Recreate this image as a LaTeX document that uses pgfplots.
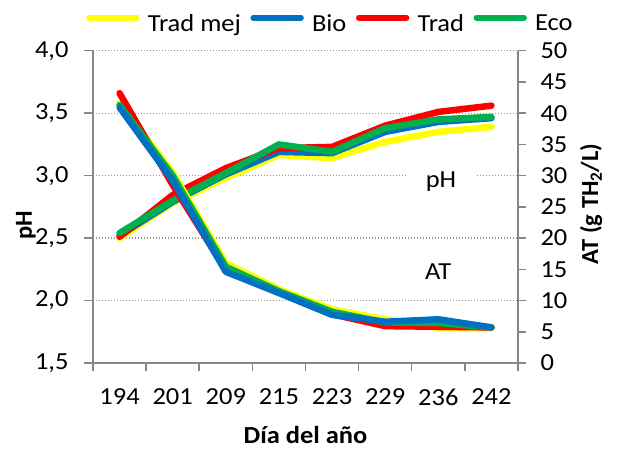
\documentclass[border=0pt]{standalone}
\usepackage{fontspec}
\setmainfont{Carlito}[FakeStretch=1.08]
\newfontfamily\rotfont{Carlito}
\usepackage{pgfplots}
\pgfplotsset{compat=1.18}
\definecolor{cy}{HTML}{FFFF00}
\definecolor{cb}{HTML}{0070C0}
\definecolor{cr}{HTML}{FF0000}
\definecolor{cg}{HTML}{00B050}
\definecolor{axgray}{HTML}{868686}
\newcommand{\fs}{\fontsize{24.5bp}{29bp}\selectfont}
\newcommand{\fl}{\fontsize{24.5bp}{29bp}\selectfont}
\pgfplotsset{
  common/.style={
    at={(93bp,87bp)}, anchor=south west, scale only axis,
    width=425bp, height=312.3bp,
    xmin=-0.5, xmax=7.5, clip=false,
    axis line style={draw=axgray, line width=1.5bp},
    tick style={draw=axgray, line width=1.5bp},
    tick align=outside,
    tick label style={font=\fs, text=black},
    yticklabel style={/pgf/number format/.cd, assume math mode=true},
    every axis plot/.append style={line width=6.5bp, line cap=round, line join=round, mark=none},
  }
}
\begin{document}
\begin{tikzpicture}
\path[use as bounding box] (0,0) rectangle (618bp,450bp);
\begin{axis}[common,
  ymin=1.5, ymax=4,
  axis x line*=bottom, axis y line*=left,
  xtick={0,...,7}, xticklabels={194,201,209,215,223,229,236,242},
  major x tick style={draw=none},
  minor xtick={-0.5,0.5,...,7.5},
  minor tick length=8bp, major tick length=9bp,
  ytick={1.5,2,...,4},
  yticklabel style={/pgf/number format/.cd, fixed, fixed zerofill, precision=1, use comma, assume math mode=true},
  ymajorgrids, grid style={draw=gray!80, line width=1.2bp, dash pattern=on 1.2bp off 1.8bp},
  xticklabel shift=13bp, yticklabel shift=12bp,
  xlabel={Día del año}, ylabel={pH},
  every axis x label/.style={at={(axis description cs:0.5,-0.2305)}, anchor=center, font=\fs\bfseries},
  every axis y label/.style={at={(axis description cs:-0.158,0.442)}, rotate=90, anchor=center, font=\rotfont\fs\bfseries},
]
\addplot[cy] coordinates {(0,2.50) (1,2.78) (2,2.98) (3,3.165) (4,3.14) (5,3.27) (6,3.35) (7,3.39)};
\addplot[cb] coordinates {(0,2.52) (1,2.79) (2,3.01) (3,3.19) (4,3.18) (5,3.35) (6,3.43) (7,3.46)};
\addplot[cr] coordinates {(0,2.51) (1,2.845) (2,3.06) (3,3.22) (4,3.23) (5,3.40) (6,3.51) (7,3.56)};
\addplot[cg] coordinates {(0,2.54) (1,2.80) (2,3.02) (3,3.25) (4,3.19) (5,3.38) (6,3.45) (7,3.47)};
\node[font=\fs, fill=white, inner xsep=20bp, inner ysep=2bp] at (axis cs:6.05,2.949) {pH};
\node[font=\fs] at (axis cs:6.0,2.228) {AT};
\end{axis}
\begin{axis}[common,
  ymin=0, ymax=50,
  axis y line*=right, axis x line=none,
  ytick={0,5,...,50}, major tick length=8bp, yticklabel shift=11bp,
  ylabel={AT (g TH\textsubscript{2}/L)},
  every axis y label/.style={at={(axis description cs:1.172,0.509)}, rotate=90, anchor=center, font=\rotfont\fs\bfseries},
  legend style={at={(axis description cs:-0.016,1.087)}, anchor=west, draw=none, fill=none,
    inner sep=0pt, outer sep=0pt, nodes={inner sep=0pt, font=\fl, text=black},
    /tikz/every odd column/.append style={column sep=8.2bp},
    /tikz/every even column/.append style={column sep=9.5bp}},
  legend columns=4,
  legend image code/.code={\draw[#1, line width=6bp, line cap=round] (0bp,6bp) -- (47.4bp,6bp);},
]
\addlegendimage{cy}\addlegendentry{Trad mej}
\addlegendimage{cb}\addlegendentry{Bio}
\addlegendimage{cr}\addlegendentry{Trad}
\addlegendimage{cg}\addlegendentry{Eco}
\addplot[cy, forget plot] coordinates {(0,41.6) (1,30.5) (2,16.0) (3,11.8) (4,8.6) (5,7.0) (6,5.6) (7,5.6)};
\addplot[cr, forget plot] coordinates {(0,43.2) (1,28.5) (2,14.9) (3,11.3) (4,7.8) (5,5.9) (6,5.8) (7,5.7)};
\addplot[cg, forget plot] coordinates {(0,41.3) (1,30.0) (2,15.4) (3,11.5) (4,8.2) (5,6.5) (6,6.4) (7,5.7)};
\addplot[cb, forget plot] coordinates {(0,40.9) (1,29.2) (2,14.6) (3,11.2) (4,7.7) (5,6.6) (6,7.0) (7,5.7)};
\end{axis}
\end{tikzpicture}
\end{document}
